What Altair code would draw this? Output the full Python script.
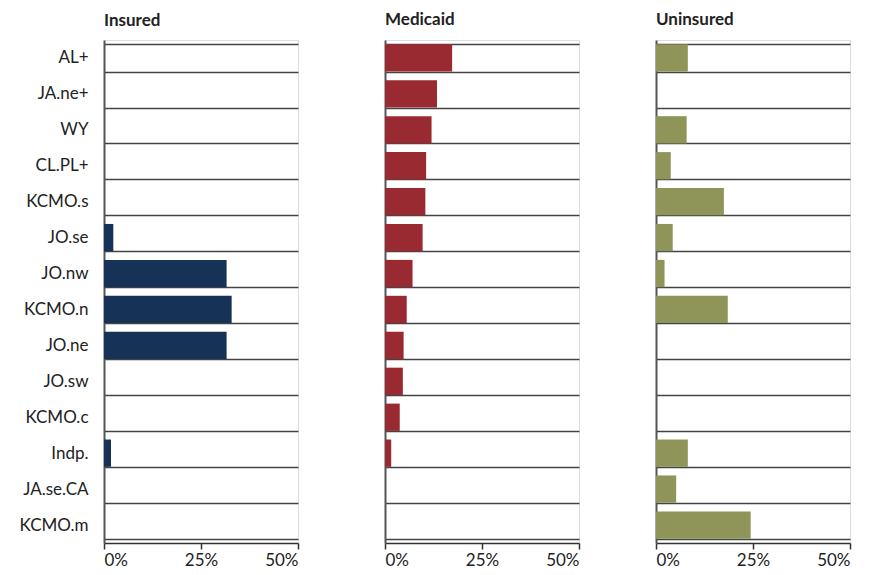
import altair as alt
import pandas as pd

FONT = "Lato"

regions = ["AL+", "JA.ne+", "WY", "CL.PL+", "KCMO.s", "JO.se", "JO.nw",
           "KCMO.n", "JO.ne", "JO.sw", "KCMO.c", "Indp.", "JA.se.CA", "KCMO.m"]
insured = [0, 0, 0, 0, 0, 0.024, 0.316, 0.329, 0.316, 0, 0, 0.018, 0, 0]
medicaid = [0.173, 0.134, 0.120, 0.106, 0.104, 0.097, 0.071, 0.056, 0.048,
            0.046, 0.038, 0.016, 0, 0]
uninsured = [0.082, 0, 0.079, 0.038, 0.175, 0.043, 0.022, 0.185, 0, 0, 0,
             0.082, 0.052, 0.244]

panels = [
    ("Insured", insured, "#163256"),
    ("Medicaid", medicaid, "#9a2a31"),
    ("Uninsured", uninsured, "#8f9459"),
]


def panel(name, values, color, show_labels, min_extent, title_dy):
    df = pd.DataFrame({"region": regions, "value": values})
    return (
        alt.Chart(
            df,
            title=alt.TitleParams(
                name, anchor="start", frame="group", fontSize=17,
                fontWeight="bold", font=FONT, color="#222222", offset=11,
                dy=title_dy,
            ),
        )
        .mark_bar(color=color)
        .encode(
            x=alt.X(
                "value:Q",
                scale=alt.Scale(domain=[0, 0.5], nice=False),
                axis=alt.Axis(
                    values=[0, 0.25, 0.5], format=".0%", title=None, grid=False,
                    domainColor="#333333", domainWidth=1.5, tickColor="#333333",
                    tickWidth=1.5, tickSize=6, labelFont=FONT, labelFontSize=17,
                    labelColor="#222222", labelPadding=3,
                ),
            ),
            y=alt.Y(
                "region:N",
                sort=regions,
                scale=alt.Scale(paddingInner=0.24, paddingOuter=0.12),
                axis=alt.Axis(
                    title=None, labels=show_labels, ticks=False, grid=True,
                    tickBand="extent", gridColor="#444444", gridWidth=1.5,
                    domainColor="#555555", domainWidth=2, labelFont=FONT,
                    labelFontSize=17, labelColor="#222222", labelPadding=16,
                    minExtent=min_extent,
                ),
            ),
        )
        .properties(width=194, height=503)
    )


p1 = panel(*panels[0], True, 30, 10)
p2 = panel(*panels[1], False, 11, 0)
p3 = panel(*panels[2], False, 0, 0)

chart = (
    alt.hconcat(p1, p2, p3, spacing=73)
    .configure_view(stroke="transparent", strokeWidth=0, strokeOpacity=0)
    .configure(font=FONT, padding={"left": 10, "top": 2, "right": 5, "bottom": 2})
)

chart.save("out.html", embed_options={"renderer": "svg", "actions": False})
